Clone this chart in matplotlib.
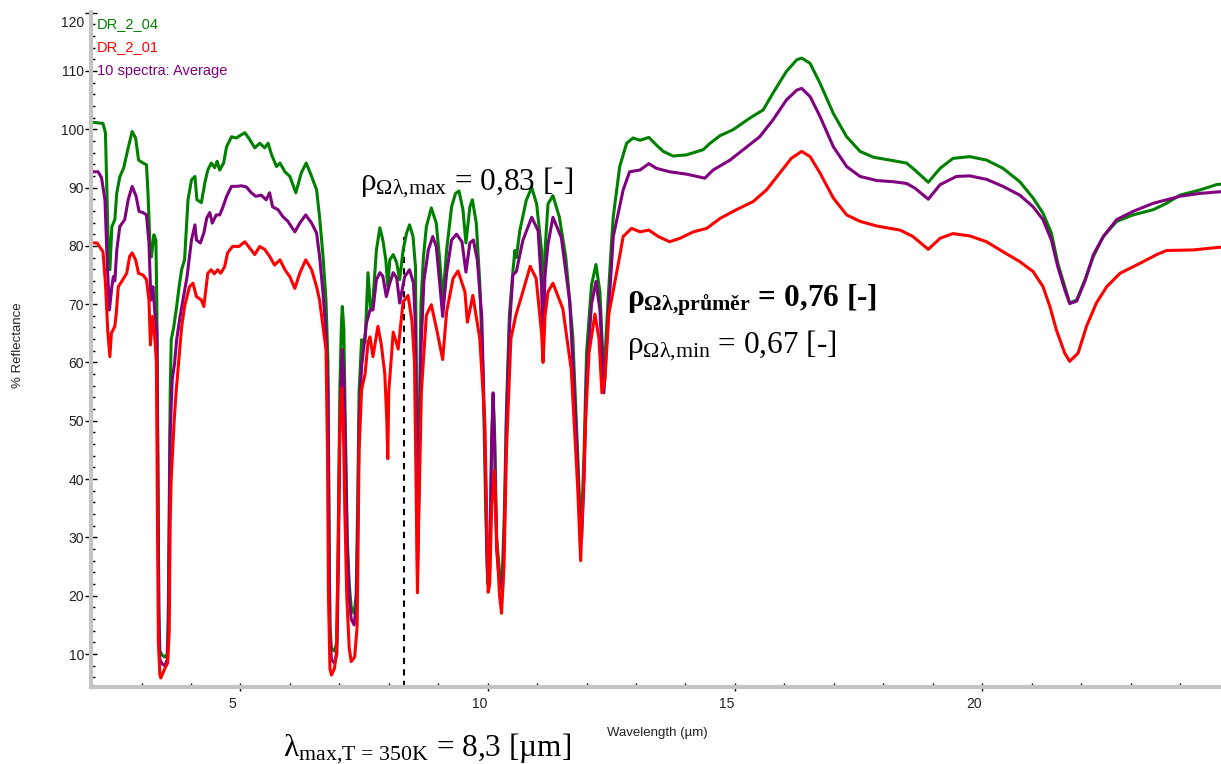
import numpy as np
import matplotlib.pyplot as plt
import matplotlib.transforms as mtransforms
from matplotlib.ticker import MultipleLocator

plt.rcParams['font.family'] = 'Liberation Sans'
plt.rcParams['mathtext.fontset'] = 'custom'
plt.rcParams['mathtext.rm'] = 'Liberation Serif'
plt.rcParams['mathtext.it'] = 'Liberation Serif:italic'
plt.rcParams['mathtext.bf'] = 'Liberation Serif:bold'

# (wavelength um, % reflectance)
dr_2_04 = [
    (2.00, 101.2), (2.10, 101.1), (2.22, 101.0), (2.27, 99.4), (2.32, 82.2), (2.36, 75.9), (2.40, 83.3),
    (2.46, 84.5), (2.50, 89.1), (2.56, 91.8), (2.64, 93.4), (2.73, 96.8), (2.81, 99.6), (2.88, 98.5),
    (2.94, 94.7), (3.03, 94.2), (3.10, 93.9), (3.13, 89.1), (3.17, 80.5), (3.20, 78.1), (3.25, 81.9),
    (3.29, 81.0), (3.31, 69.5), (3.33, 45.0), (3.35, 18.0), (3.37, 10.5), (3.42, 9.8), (3.47, 9.5),
    (3.52, 10.0), (3.54, 16.0), (3.56, 35.0), (3.58, 55.0), (3.60, 63.9), (3.65, 66.0), (3.71, 69.6),
    (3.76, 73.0), (3.81, 75.9), (3.87, 77.6), (3.94, 87.9), (4.01, 91.3), (4.08, 91.9), (4.12, 87.9),
    (4.21, 87.4), (4.28, 90.8), (4.34, 93.0), (4.41, 94.2), (4.48, 93.4), (4.53, 94.5), (4.58, 93.0),
    (4.66, 94.2), (4.72, 97.0), (4.82, 98.7), (4.92, 98.5), (4.99, 98.9), (5.09, 99.4), (5.19, 98.2),
    (5.29, 96.8), (5.39, 97.6), (5.49, 96.8), (5.56, 97.6), (5.63, 95.6), (5.73, 93.6), (5.80, 94.2),
    (5.90, 92.7), (6.00, 91.9), (6.12, 89.1), (6.23, 92.5), (6.33, 94.2), (6.44, 91.9), (6.54, 89.6),
    (6.60, 85.0), (6.67, 78.2), (6.73, 70.7), (6.77, 60.0), (6.79, 35.0), (6.81, 15.0), (6.84, 11.0),
    (6.90, 10.5), (6.95, 12.0), (6.98, 30.0), (7.01, 55.0), (7.04, 66.0), (7.06, 69.6), (7.09, 66.0),
    (7.12, 50.0), (7.16, 30.0), (7.20, 22.0), (7.24, 18.0), (7.30, 17.0), (7.34, 20.0), (7.37, 35.0),
    (7.40, 55.0), (7.45, 63.9), (7.52, 63.5), (7.58, 75.4), (7.63, 69.0), (7.68, 70.7), (7.75, 79.3),
    (7.82, 83.1), (7.88, 81.0), (7.94, 77.6), (7.98, 73.0), (8.02, 77.6), (8.09, 78.5), (8.16, 77.1),
    (8.22, 74.2), (8.29, 79.3), (8.36, 82.2), (8.42, 83.6), (8.49, 81.6), (8.54, 76.4), (8.56, 55.0),
    (8.58, 31.0), (8.61, 45.0), (8.65, 70.0), (8.70, 78.0), (8.76, 83.3), (8.86, 86.5), (8.96, 83.9),
    (9.03, 77.6), (9.09, 70.5), (9.17, 79.3), (9.27, 86.7), (9.35, 89.0), (9.42, 89.4), (9.50, 86.2),
    (9.56, 80.5), (9.64, 86.7), (9.69, 87.9), (9.77, 83.9), (9.84, 73.6), (9.91, 56.5), (9.96, 35.0),
    (10.00, 22.0), (10.04, 24.0), (10.08, 45.0), (10.11, 54.0), (10.14, 48.0), (10.18, 30.0),
    (10.24, 24.0), (10.29, 22.0), (10.34, 35.0), (10.38, 52.0), (10.44, 68.3), (10.51, 75.6),
    (10.55, 79.2), (10.58, 78.0), (10.65, 82.6), (10.78, 87.8), (10.89, 90.0), (10.99, 87.2),
    (11.09, 79.2), (11.12, 64.1), (11.16, 79.2), (11.22, 87.2), (11.32, 88.6), (11.45, 84.9),
    (11.58, 78.0), (11.72, 64.6), (11.82, 44.4), (11.86, 35.6), (11.90, 32.0), (11.95, 45.0),
    (12.00, 61.7), (12.10, 73.3), (12.19, 76.8), (12.27, 72.1), (12.35, 57.1), (12.43, 70.0),
    (12.50, 80.0), (12.54, 85.0), (12.67, 93.6), (12.81, 97.6), (12.94, 98.5), (13.08, 98.1),
    (13.26, 98.6), (13.41, 97.3), (13.55, 96.2), (13.75, 95.4), (14.02, 95.6), (14.36, 96.5),
    (14.50, 97.6), (14.70, 98.9), (14.96, 99.9), (15.30, 101.9), (15.57, 103.3), (15.77, 106.2),
    (16.04, 109.9), (16.25, 111.9), (16.35, 112.2), (16.52, 111.3), (16.72, 107.9), (16.99, 102.7),
    (17.26, 98.7), (17.53, 96.2), (17.80, 95.2), (18.20, 94.6), (18.47, 94.2), (18.64, 93.0),
    (18.91, 90.9), (19.15, 93.3), (19.41, 95.0), (19.75, 95.3), (20.09, 94.7), (20.42, 93.3),
    (20.76, 91.0), (21.03, 88.2), (21.23, 85.6), (21.40, 82.2), (21.53, 77.0), (21.67, 73.0),
    (21.77, 70.2), (21.91, 70.7), (22.08, 74.2), (22.25, 78.2), (22.45, 81.6), (22.72, 84.2),
    (23.05, 85.3), (23.46, 86.2), (23.73, 87.3), (24.00, 88.7), (24.41, 89.6), (24.74, 90.5),
    (24.85, 90.6),
]

dr_2_01 = [
    (2.00, 80.5), (2.10, 80.5), (2.22, 79.0), (2.27, 73.6), (2.32, 65.0), (2.36, 61.0), (2.39, 65.0),
    (2.46, 66.2), (2.49, 68.5), (2.53, 73.0), (2.60, 73.9), (2.70, 75.3), (2.76, 78.2), (2.81, 78.8),
    (2.88, 77.6), (2.94, 75.3), (3.03, 75.0), (3.10, 74.2), (3.15, 70.7), (3.18, 63.0), (3.22, 67.9),
    (3.27, 64.0), (3.30, 60.0), (3.32, 35.0), (3.34, 12.0), (3.37, 6.5), (3.39, 5.9), (3.47, 7.5),
    (3.53, 8.5), (3.56, 14.0), (3.58, 33.0), (3.60, 40.0), (3.63, 45.0), (3.66, 50.0), (3.70, 55.0),
    (3.75, 60.0), (3.81, 66.0), (3.87, 69.6), (3.97, 73.0), (4.04, 73.6), (4.11, 71.3), (4.21, 70.7),
    (4.26, 69.6), (4.34, 75.3), (4.41, 75.9), (4.47, 75.2), (4.54, 75.9), (4.60, 75.3), (4.68, 76.4),
    (4.74, 78.8), (4.84, 79.9), (4.97, 79.9), (5.09, 80.7), (5.19, 79.6), (5.29, 78.5), (5.39, 79.9),
    (5.49, 79.4), (5.59, 78.2), (5.69, 76.7), (5.80, 77.6), (5.90, 75.9), (6.00, 74.7), (6.10, 72.7),
    (6.20, 75.3), (6.32, 77.6), (6.44, 75.9), (6.54, 73.0), (6.60, 70.7), (6.67, 66.2), (6.73, 62.2),
    (6.76, 45.0), (6.78, 20.0), (6.81, 7.5), (6.84, 6.4), (6.90, 7.5), (6.94, 10.0), (6.97, 25.0),
    (7.00, 45.0), (7.03, 53.0), (7.05, 55.6), (7.08, 50.0), (7.11, 35.0), (7.15, 20.0), (7.20, 11.0),
    (7.24, 8.7), (7.31, 9.5), (7.36, 14.7), (7.38, 30.0), (7.40, 45.0), (7.45, 55.3), (7.52, 58.0),
    (7.58, 63.4), (7.62, 64.4), (7.68, 61.0), (7.78, 66.2), (7.85, 63.0), (7.92, 58.0), (7.96, 50.0),
    (7.98, 43.5), (8.00, 55.0), (8.09, 65.2), (8.19, 62.3), (8.29, 70.4), (8.39, 71.5), (8.47, 67.0),
    (8.52, 60.0), (8.55, 40.0), (8.58, 20.5), (8.61, 35.0), (8.66, 55.0), (8.76, 68.1), (8.86, 69.9),
    (8.98, 65.2), (9.09, 60.5), (9.17, 68.7), (9.30, 74.4), (9.40, 75.7), (9.54, 72.1), (9.59, 66.9),
    (9.70, 71.5), (9.84, 64.1), (9.94, 50.2), (9.99, 30.0), (10.01, 20.6), (10.04, 22.0), (10.08, 35.0),
    (10.14, 41.5), (10.18, 30.0), (10.24, 20.0), (10.28, 17.0), (10.33, 25.0), (10.38, 45.0),
    (10.47, 64.1), (10.57, 68.1), (10.71, 72.1), (10.86, 76.5), (10.98, 74.4), (11.09, 65.0),
    (11.12, 60.0), (11.16, 68.0), (11.22, 72.1), (11.32, 73.6), (11.52, 69.2), (11.69, 58.8),
    (11.82, 38.6), (11.86, 30.0), (11.88, 26.0), (11.92, 35.0), (11.98, 50.0), (12.05, 61.7),
    (12.17, 68.3), (12.25, 64.1), (12.31, 54.8), (12.37, 57.0), (12.45, 68.3), (12.65, 77.3),
    (12.74, 81.6), (12.91, 83.0), (13.08, 82.4), (13.26, 82.7), (13.45, 81.6), (13.68, 80.7),
    (13.89, 81.3), (14.16, 82.4), (14.43, 83.0), (14.70, 84.7), (15.03, 86.2), (15.37, 87.6),
    (15.64, 89.6), (15.91, 92.5), (16.14, 95.0), (16.35, 96.2), (16.52, 95.3), (16.72, 92.5),
    (16.99, 88.2), (17.26, 85.3), (17.53, 84.2), (17.87, 83.4), (18.34, 82.7), (18.60, 81.6),
    (18.91, 79.4), (19.15, 81.3), (19.41, 82.1), (19.75, 81.7), (20.09, 80.7), (20.42, 79.0),
    (20.76, 77.3), (21.03, 75.6), (21.23, 73.0), (21.37, 69.6), (21.50, 65.6), (21.67, 61.6),
    (21.77, 60.2), (21.94, 61.6), (22.11, 66.2), (22.31, 70.2), (22.52, 73.0), (22.79, 75.3),
    (23.19, 77.0), (23.53, 78.5), (23.73, 79.2), (24.27, 79.3), (24.85, 79.8),
]

avg_10 = [
    (2.00, 92.7), (2.12, 92.7), (2.19, 91.7), (2.26, 87.9), (2.31, 76.4), (2.35, 69.0), (2.40, 73.0),
    (2.43, 74.7), (2.46, 74.0), (2.50, 79.3), (2.56, 83.3), (2.66, 84.5), (2.73, 87.9), (2.81, 90.2),
    (2.89, 88.5), (2.95, 85.9), (3.03, 85.7), (3.10, 85.3), (3.15, 80.5), (3.19, 70.7), (3.23, 73.0),
    (3.27, 68.5), (3.31, 65.0), (3.33, 40.0), (3.35, 16.0), (3.37, 9.0), (3.42, 8.3), (3.47, 8.0),
    (3.52, 9.0), (3.54, 14.0), (3.56, 30.0), (3.58, 48.0), (3.62, 57.0), (3.67, 60.0), (3.71, 63.9),
    (3.78, 67.9), (3.92, 74.7), (4.01, 81.0), (4.08, 83.6), (4.11, 81.0), (4.19, 80.5), (4.26, 82.2),
    (4.32, 84.8), (4.38, 85.7), (4.43, 83.9), (4.51, 85.3), (4.58, 85.3), (4.64, 86.5), (4.72, 88.5),
    (4.82, 90.2), (4.92, 90.2), (5.02, 90.3), (5.12, 90.1), (5.22, 89.1), (5.31, 88.5), (5.42, 88.7),
    (5.52, 87.9), (5.59, 89.1), (5.65, 86.7), (5.76, 86.2), (5.86, 85.0), (5.96, 84.2), (6.10, 82.4),
    (6.20, 83.9), (6.32, 85.3), (6.44, 83.9), (6.54, 82.2), (6.60, 78.2), (6.67, 71.9), (6.73, 65.0),
    (6.77, 55.0), (6.79, 30.0), (6.81, 13.0), (6.84, 9.0), (6.90, 8.5), (6.95, 10.0), (6.98, 25.0),
    (7.01, 48.0), (7.04, 58.0), (7.06, 62.2), (7.09, 58.0), (7.12, 45.0), (7.16, 28.0), (7.20, 20.0),
    (7.24, 16.0), (7.30, 15.0), (7.34, 18.0), (7.37, 30.0), (7.40, 50.0), (7.45, 59.3), (7.55, 66.8),
    (7.62, 69.0), (7.68, 69.0), (7.75, 74.2), (7.82, 75.4), (7.88, 74.8), (7.95, 71.3), (8.02, 73.6),
    (8.09, 75.4), (8.16, 74.5), (8.22, 70.2), (8.32, 74.7), (8.42, 75.9), (8.50, 73.6), (8.54, 66.0),
    (8.56, 45.0), (8.58, 24.0), (8.61, 38.0), (8.65, 62.0), (8.71, 74.0), (8.80, 79.3), (8.89, 81.6),
    (8.96, 79.9), (9.03, 73.6), (9.09, 67.9), (9.17, 75.4), (9.27, 81.0), (9.37, 82.0), (9.48, 80.7),
    (9.56, 75.5), (9.64, 80.5), (9.71, 81.0), (9.79, 77.6), (9.88, 67.9), (9.94, 48.0), (9.99, 25.0),
    (10.02, 22.0), (10.05, 30.0), (10.08, 47.0), (10.11, 54.8), (10.14, 46.0), (10.18, 28.0),
    (10.24, 22.0), (10.30, 21.0), (10.34, 32.0), (10.38, 50.0), (10.44, 66.0), (10.51, 75.0),
    (10.58, 75.6), (10.71, 80.9), (10.89, 84.9), (11.02, 82.6), (11.09, 73.0), (11.12, 61.7),
    (11.16, 75.0), (11.22, 80.3), (11.32, 84.9), (11.49, 81.4), (11.66, 70.4), (11.78, 50.0),
    (11.86, 33.0), (11.90, 30.0), (11.95, 40.0), (12.00, 58.0), (12.10, 70.0), (12.19, 73.9),
    (12.27, 69.0), (12.35, 54.8), (12.44, 68.0), (12.54, 81.6), (12.74, 89.6), (12.87, 92.7),
    (13.08, 93.0), (13.26, 94.1), (13.41, 93.3), (13.68, 92.7), (14.02, 92.3), (14.39, 91.6),
    (14.56, 93.0), (14.90, 94.7), (15.17, 96.5), (15.50, 98.7), (15.77, 101.6), (16.04, 105.0),
    (16.25, 106.7), (16.35, 107.0), (16.52, 105.6), (16.72, 102.2), (16.99, 97.0), (17.26, 93.6),
    (17.53, 91.9), (17.87, 91.2), (18.20, 91.0), (18.47, 90.7), (18.64, 89.9), (18.91, 88.0),
    (19.15, 90.5), (19.48, 91.9), (19.75, 92.0), (20.09, 91.4), (20.42, 90.2), (20.76, 88.7),
    (21.03, 86.7), (21.23, 84.5), (21.40, 81.0), (21.53, 76.4), (21.67, 72.5), (21.77, 70.1),
    (21.91, 70.5), (22.08, 74.0), (22.25, 78.5), (22.45, 81.6), (22.72, 84.5), (23.05, 85.9),
    (23.46, 87.3), (23.73, 87.9), (24.00, 88.5), (24.41, 89.0), (24.85, 89.3),
]

series_names = ['DR_2_04', 'DR_2_01', '10 spectra: Average']
series_colors = ['#008000', '#ff0000', '#800080']

lambda_max = 8.3       # um, Wien peak at T = 350 K
rho_max, rho_avg, rho_min = 0.83, 0.76, 0.67


def cz(v, nd=2):
    # decimal comma
    return f'{v:.{nd}f}'.replace('.', ',')


W, H = 1221, 764
fig = plt.figure(figsize=(W / 100, H / 100), dpi=100)
ax = fig.add_axes([91 / W, 77 / H, 1130 / W, 675 / H])

ax.axvline(lambda_max, ymax=(81.5 - 4.35) / (120.1 - 4.35), color='black',
           lw=1.5, ls=(0, (3, 2.5)), zorder=1)

# green first, then average, red on top
for data, c in [(dr_2_04, series_colors[0]), (avg_10, series_colors[2]), (dr_2_01, series_colors[1])]:
    wl, r = np.array(data).T
    ax.plot(wl, r, color=c, lw=2.2, solid_joinstyle='round', zorder=2)

ax.set_xlim(1.978, 24.83)
ax.set_ylim(4.35, 120.1)

for s in ['top', 'right']:
    ax.spines[s].set_visible(False)
for s in ['left', 'bottom']:
    ax.spines[s].set_color('#c4c4c4')
    ax.spines[s].set_linewidth(3)

ax.set_xticks([5, 10, 15, 20])
ax.set_yticks(range(10, 121, 10))
ax.xaxis.set_minor_locator(MultipleLocator(1))
ax.yaxis.set_minor_locator(MultipleLocator(2))
ax.tick_params(axis='x', which='major', direction='inout', length=6, width=1,
               color='black', labelsize=10, pad=4, labelcolor='#222222')
ax.tick_params(axis='y', which='major', direction='inout', length=8, width=1,
               color='black', labelsize=10, pad=1, labelcolor='#222222')
ax.tick_params(which='minor', direction='in', length=3, width=1, color='black')

shift = mtransforms.ScaledTranslation(-0.08, 0, fig.dpi_scale_trans)
for lbl in ax.get_xticklabels():
    lbl.set_transform(lbl.get_transform() + shift)
top_lbl = ax.get_yticklabels()[-1]
top_lbl.set_transform(top_lbl.get_transform() + mtransforms.ScaledTranslation(0, -0.09, fig.dpi_scale_trans))

# series names in the top-left corner
for i, (name, c) in enumerate(zip(series_names, series_colors)):
    fig.text(97 / W, 1 - (24 + 23.5 * i) / H, name, color=c, fontsize=10.5, va='center', ha='left')

fig.text(18 / W, 1 - 345 / H, '% Reflectance', rotation=90, fontsize=9.5,
         ha='center', va='center', color='#222222')
fig.text(657 / W, 1 - 733 / H, 'Wavelength (µm)', fontsize=9.5,
         ha='center', va='center', color='#222222')

serif = 'Liberation Serif'
fs = 22.5
fig.text(360 / W, 1 - 190 / H, r'$\mathrm{ρ}_{\mathrm{Ωλ{,}max}}$' + f' = {cz(rho_max)} [-]',
         fontsize=fs, family=serif, va='baseline')
fig.text(627 / W, 1 - 306 / H, r'$\mathbf{ρ}_{\mathbf{Ωλ{,}průměr}}$' + f' = {cz(rho_avg)} [-]',
         fontsize=fs, family=serif, weight='bold', va='baseline')
fig.text(627 / W, 1 - 353 / H, r'$\mathrm{ρ}_{\mathrm{Ωλ{,}min}}$' + f' = {cz(rho_min)} [-]',
         fontsize=fs, family=serif, va='baseline')
fig.text(283 / W, 1 - 756 / H, r'$\mathrm{λ}_{\mathrm{max{,}T\,=\,350K}}$' + f' = {cz(lambda_max, 1)} [µm]',
         fontsize=fs, family=serif, va='baseline')

fig.savefig('out.png', dpi=100)
